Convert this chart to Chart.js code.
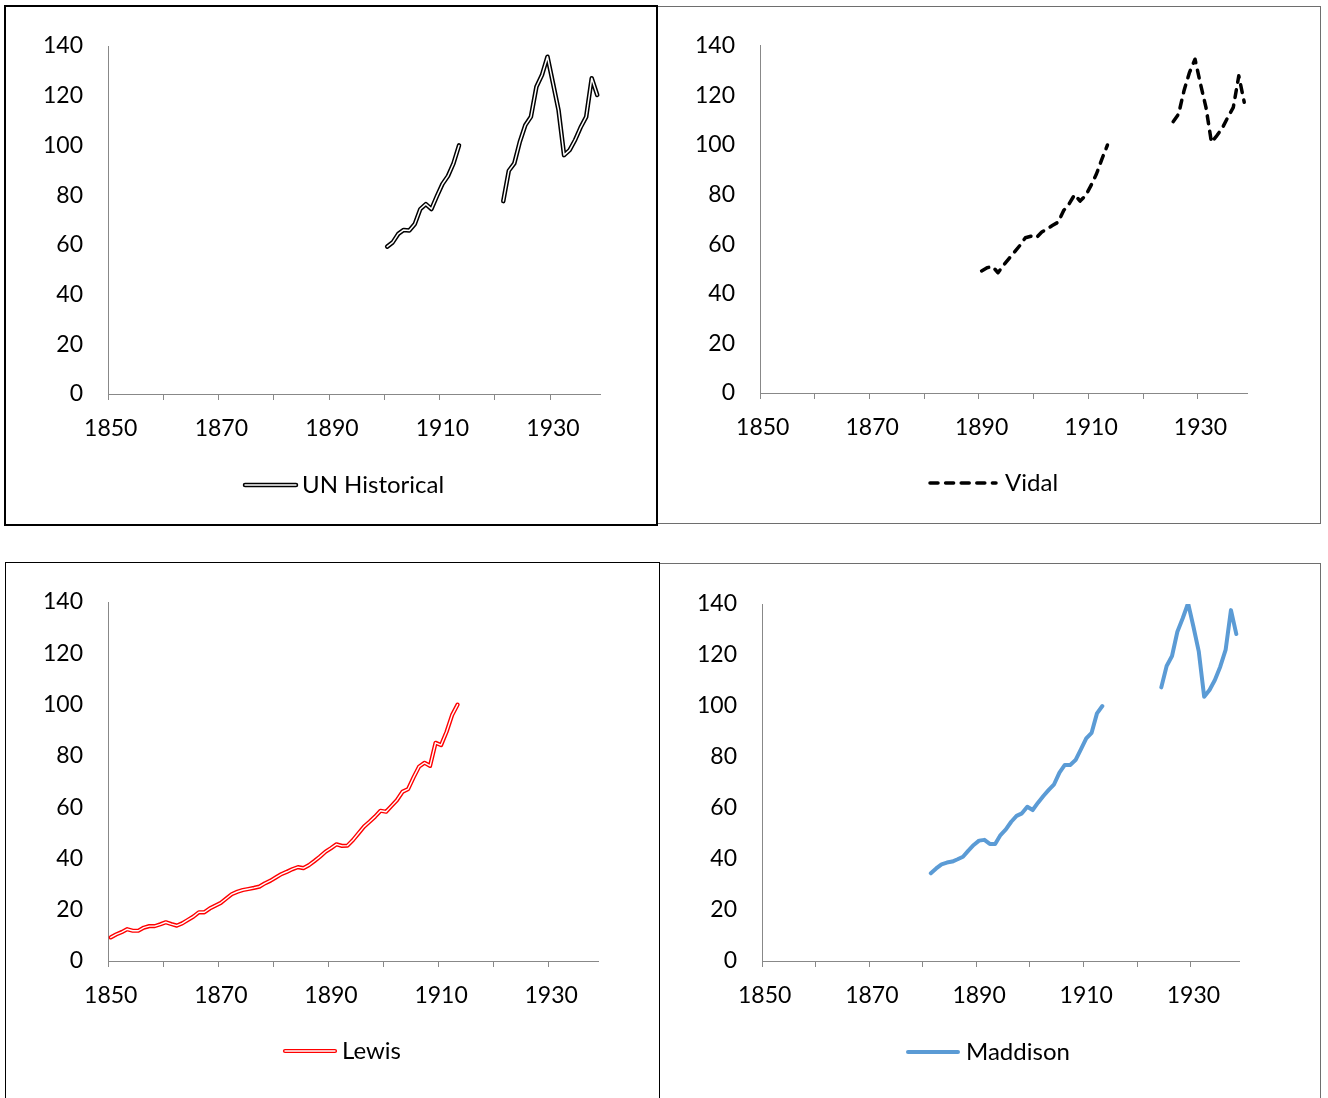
<!DOCTYPE html>
<html>
<head>
<meta charset="utf-8">
<script src="https://cdn.jsdelivr.net/npm/chart.js@4.4.1/dist/chart.umd.min.js"></script>
<style>
  html, body { margin: 0; background: #fff; overflow: hidden; }
  .panel { position: absolute; box-sizing: border-box; background: #fff; overflow: hidden; }
  .panel canvas { position: absolute; left: 0; top: 0; }
</style>
</head>
<body>
<div class="panel" style="left:4px;top:5px;width:654px;height:521px;border:2px solid #000">
  <canvas id="unChart" width="650" height="517"></canvas>
</div>
<div class="panel" style="left:658px;top:6px;width:663px;height:518px;border:1px solid #6e6e6e;border-left:none">
  <canvas id="vidalChart" width="662" height="516"></canvas>
</div>
<div class="panel" style="left:5px;top:562px;width:655px;height:560px;border:1px solid #000">
  <canvas id="lewisChart" width="653" height="535"></canvas>
</div>
<div class="panel" style="left:660px;top:563px;width:661px;height:560px;border:1px solid #6e6e6e;border-left:none">
  <canvas id="maddisonChart" width="660" height="534"></canvas>
</div>

<script>
// years on the category axis
const firstYear = 1850;
const lastYear = 1938;
const years = [];
for (let y = firstYear; y <= lastYear; y++) years.push(String(y));

// UN Historical: 1900-1913 and 1921-1938
const unStartA = 1900;
const unHistoricalA = [59.3, 61.0, 64.4, 66.0, 65.8, 68.4, 74.4, 76.4, 74.4, 79.6, 84.5, 87.7, 92.8, 100];
const unStartB = 1921;
const unHistoricalB = [77.6, 89.8, 92.8, 101.5, 108.2, 111.5, 123.6, 128.3, 135.7, 125.0, 114.2, 96.1, 98.1, 102.2, 107.3, 111.5, 127.0, 120.3];

// Vidal: 1890-1913 and 1925-1938
const vidalStartA = 1890;
const vidalA = [49.2, 50.5, 51.0, 48.5, 51.5, 54.2, 56.8, 59.5, 62.6, 63.2, 62.6, 64.9, 66.2, 67.6, 68.9, 73.6, 76.3, 80.0, 77.4, 79.6, 83.7, 88.4, 94.4, 100];
const vidalStartB = 1925;
const vidalB = [109.4, 112.5, 122.0, 129.3, 134.6, 124.6, 115.2, 101.1, 103.8, 106.9, 111.2, 115.2, 127.9, 117.2];

// Lewis: 1850-1913
const lewisStart = 1850;
const lewis = [9.2, 10.4, 11.3, 12.4, 11.8, 11.8, 13.0, 13.6, 13.6, 14.3,
  15.1, 14.4, 13.8, 14.7, 16.0, 17.3, 19.0, 19.0, 20.5, 21.6,
  22.7, 24.4, 26.1, 27.0, 27.7, 28.1, 28.5, 29.0, 30.3, 31.3,
  32.6, 33.9, 34.8, 35.8, 36.6, 36.2, 37.4, 39.0, 40.7, 42.6,
  44.0, 45.5, 44.9, 45.0, 47.2, 49.8, 52.4, 54.3, 56.3, 58.6,
  58.2, 60.5, 62.8, 66.0, 67.0, 71.6, 75.8, 77.3, 76.1, 85.1,
  84.2, 89.4, 95.9, 100];

// Maddison: 1881-1913 and 1924-1938
const maddisonStartA = 1881;
const maddisonA = [34.4, 36.3, 37.9, 38.6, 39.0, 39.9, 40.9, 43.3, 45.5, 47.2,
  47.5, 45.9, 45.9, 49.4, 51.6, 54.6, 56.9, 57.9, 60.5, 59.2,
  62.1, 64.7, 67.1, 69.3, 73.9, 76.9, 76.9, 78.8, 83.0, 87.3,
  89.5, 97.1, 100];
const maddisonStartB = 1924;
const maddisonB = [107.3, 115.7, 119.6, 129.1, 134.4, 140.3, 131.1, 121.3, 103.6, 106.3, 110.2, 115.4, 122.0, 137.6, 128.2];

const axisGrey = '#888888';

// put the pieces of a series on the year axis, gaps stay null
function onYears(...pieces) {
  const out = years.map(() => null);
  pieces.forEach(([start, values]) => {
    values.forEach((v, i) => { out[start - firstYear + i] = v; });
  });
  return out;
}

Chart.defaults.font.family = 'Lato';
Chart.defaults.font.size = 23;
Chart.defaults.color = '#000';

// excel style legend under the plot: line sample + name
const sampleLegend = {
  id: 'sampleLegend',
  afterDraw(chart, args, opts) {
    const { ctx, chartArea } = chart;
    const ds = chart.data.datasets[0];
    const x0 = chartArea.left + opts.x;
    const x1 = x0 + opts.width;
    const y = chartArea.bottom + opts.y;
    ctx.save();
    ctx.lineCap = 'round';
    ctx.setLineDash(ds.borderDash || []);
    ctx.strokeStyle = ds.borderColor;
    ctx.lineWidth = ds.borderWidth;
    ctx.beginPath();
    ctx.moveTo(x0, y);
    ctx.lineTo(x1, y);
    ctx.stroke();
    if (opts.double) {
      ctx.strokeStyle = '#fff';
      ctx.lineWidth = 1.4;
      ctx.beginPath();
      ctx.moveTo(x0, y);
      ctx.lineTo(x1, y);
      ctx.stroke();
    }
    ctx.setLineDash([]);
    ctx.fillStyle = '#000';
    ctx.font = '24px Lato';
    ctx.textAlign = 'left';
    ctx.textBaseline = 'middle';
    ctx.fillText(ds.label, chartArea.left + opts.textX, y);
    ctx.restore();
  }
};

function buildOptions(g, legend) {
  return {
    responsive: false,
    animation: false,
    layout: { padding: { left: 0, right: g.padR, top: g.padT, bottom: g.padB } },
    elements: { point: { radius: 0 }, line: { tension: 0 } },
    scales: {
      x: {
        type: 'category',
        offset: true,
        grid: {
          offset: true,
          drawOnChartArea: false,
          tickLength: 6,
          color: c => (c.index % 10 === 0 ? axisGrey : 'transparent')
        },
        border: { color: axisGrey, width: 1 },
        ticks: {
          autoSkip: false,
          maxRotation: 0,
          minRotation: 0,
          padding: 15,
          callback: function (v, i) { return i % 20 === 0 ? this.getLabelForValue(v) : ''; }
        },
        afterFit: s => { s.height = 69; }
      },
      y: {
        min: 0,
        max: 140,
        ticks: { stepSize: 20, padding: 25 },
        grid: { drawOnChartArea: false, drawTicks: false },
        border: { color: axisGrey, width: 1 },
        afterFit: s => { s.width = 102; }
      }
    },
    plugins: {
      legend: { display: false },
      tooltip: { enabled: false },
      sampleLegend: legend
    }
  };
}

const unData = onYears([unStartA, unHistoricalA], [unStartB, unHistoricalB]);
new Chart(document.getElementById('unChart'), {
  type: 'line',
  data: {
    labels: years,
    datasets: [
      { label: 'UN Historical', data: unData, borderColor: '#000',
        borderWidth: 4.5, borderCapStyle: 'round', borderJoinStyle: 'round', order: 2 },
      { label: '', data: unData, borderColor: '#fff', borderWidth: 1.5,
        borderCapStyle: 'round', borderJoinStyle: 'round', order: 1 }
    ]
  },
  options: buildOptions(
    { padR: 56, padT: 39, padB: 61 },
    { x: 137, width: 51, textX: 194, y: 91, double: true }
  ),
  plugins: [sampleLegend]
});

new Chart(document.getElementById('vidalChart'), {
  type: 'line',
  data: {
    labels: years,
    datasets: [
      { label: 'Vidal', data: onYears([vidalStartA, vidalA], [vidalStartB, vidalB]),
        borderColor: '#000', borderWidth: 3.5, borderDash: [8, 7.6],
        borderCapStyle: 'round', borderJoinStyle: 'round' }
    ]
  },
  options: buildOptions(
    { padR: 73, padT: 38, padB: 61 },
    { x: 170, width: 66, textX: 245, y: 90 }
  ),
  plugins: [sampleLegend]
});

const lewisData = onYears([lewisStart, lewis]);
new Chart(document.getElementById('lewisChart'), {
  type: 'line',
  data: {
    labels: years,
    datasets: [
      { label: 'Lewis', data: lewisData, borderColor: '#ff0000',
        borderWidth: 4.2, borderCapStyle: 'round', borderJoinStyle: 'round', order: 2 },
      { label: '', data: lewisData, borderColor: '#fff', borderWidth: 1.4,
        borderCapStyle: 'round', borderJoinStyle: 'round', order: 1 }
    ]
  },
  options: buildOptions(
    { padR: 61, padT: 39, padB: 68 },
    { x: 177, width: 50, textX: 234, y: 90, double: true }
  ),
  plugins: [sampleLegend]
});

new Chart(document.getElementById('maddisonChart'), {
  type: 'line',
  data: {
    labels: years,
    datasets: [
      { label: 'Maddison', data: onYears([maddisonStartA, maddisonA], [maddisonStartB, maddisonB]),
        borderColor: '#5b9bd5', borderWidth: 4, borderCapStyle: 'round', borderJoinStyle: 'round' }
    ]
  },
  options: buildOptions(
    { padR: 81, padT: 40, padB: 68 },
    { x: 146, width: 50, textX: 204, y: 91 }
  ),
  plugins: [sampleLegend]
});
</script>
</body>
</html>
